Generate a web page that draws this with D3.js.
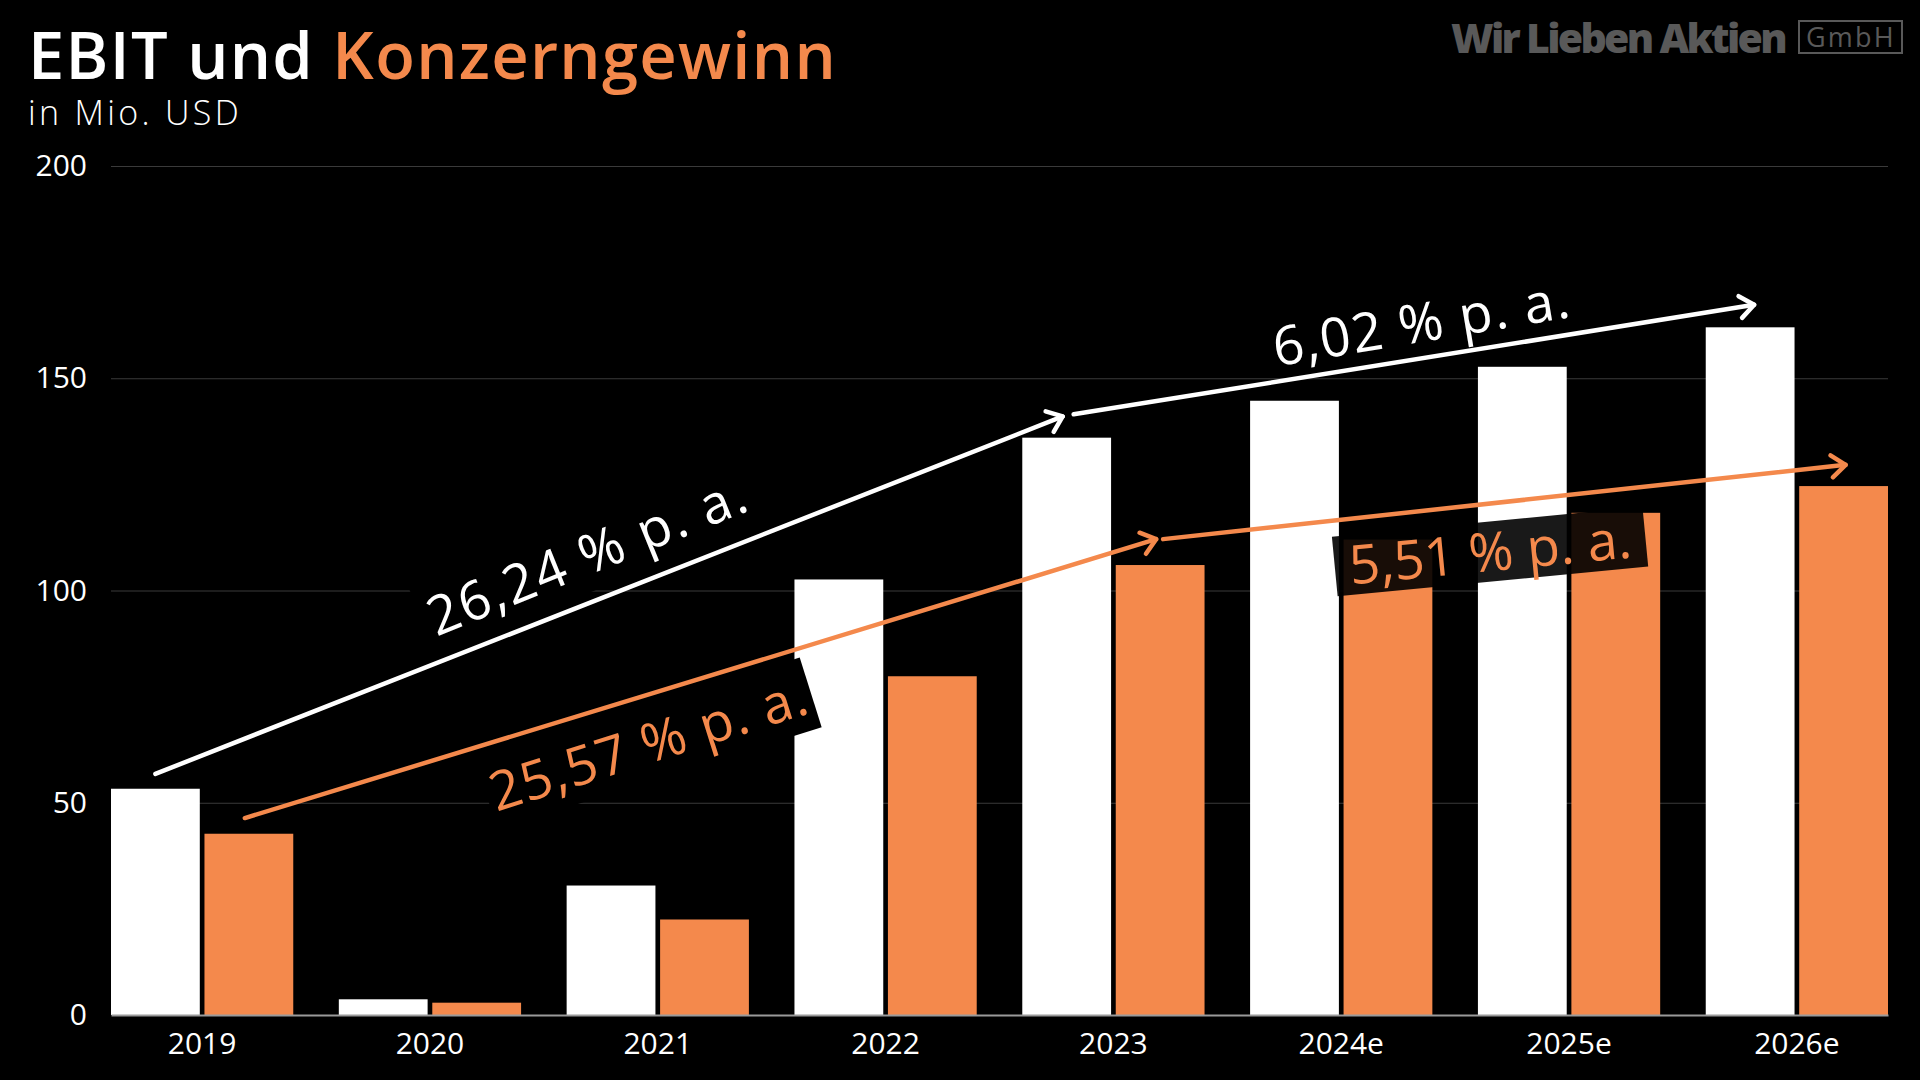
<!DOCTYPE html>
<html><head><meta charset="utf-8">
<script src="https://cdn.jsdelivr.net/npm/d3@7"></script>
<style>html,body{margin:0;padding:0;background:#000;overflow:hidden}svg{display:block}</style>
</head><body>
<svg id="c" width="1920" height="1080"></svg>
<script>
// ---------- data ----------
const years = ["2019","2020","2021","2022","2023","2024e","2025e","2026e"];
const seriesNames = ["EBIT","Konzerngewinn"];
const ebit = [53.3, 3.7, 30.5, 102.6, 136.0, 144.7, 152.7, 162.0];
const konzerngewinn = [42.7, 2.9, 22.5, 79.8, 106.0, 112.0, 118.3, 124.6];
const yTicks = [0, 50, 100, 150, 200];
// growth arrows (start/end category + value in Mio. USD) and their labels
const growthEBIT = [
  {from:"2019", fromV:56.8, to:"2023", toV:141.0, label:"26,24 % p. a."},
  {from:"2023", fromV:141.5, to:"2026e", toV:167.3, label:"6,02 % p. a."}
];
const growthKG = [
  {from:"2019", fromV:46.4, to:"2023", toV:112.1, label:"25,57 % p. a."},
  {from:"2023", fromV:112.1, to:"2026e", toV:129.6, label:"5,51 % p. a."}
];

// ---------- layout / style ----------
const W = 1920, H = 1080;
const FONT = "'Open Sans', 'Noto Sans', sans-serif";
const ORANGE = "#f4894c";
const plot = {left:111, right:1888, top:166, bottom:1015};
const svg = d3.select("#c").style("font-family", FONT);
svg.append("rect").attr("width", W).attr("height", H).attr("fill", "#000");

function fitLS(sel, target){
  const n = sel.node();
  const len = n.getComputedTextLength();
  const chars = n.textContent.length;
  sel.attr("letter-spacing", (target - len) / chars);
}

// ---------- scales ----------
const x0 = d3.scaleBand().domain(years).range([plot.left, plot.right]).paddingInner(0.2).paddingOuter(0);
const x1 = d3.scaleBand().domain(seriesNames).range([0, x0.bandwidth()]).paddingInner(0.05);
const y = d3.scaleLinear().domain([0, 200]).range([plot.bottom, plot.top]);
const color = d3.scaleOrdinal().domain(seriesNames).range(["#ffffff", ORANGE]);

// ---------- title ----------
const title = svg.append("text").attr("x", 28).attr("y", 79)
  .attr("font-size", 65).attr("font-weight", 600);
title.append("tspan").attr("fill", "#fff").text("EBIT und ");
title.append("tspan").attr("fill", ORANGE).text("Konzerngewinn");
fitLS(title, 809);
const sub = svg.append("text").attr("x", 28).attr("y", 125)
  .attr("font-size", 34).attr("font-weight", 300).attr("fill", "#fff").text("in Mio. USD");
fitLS(sub, 214);

// logo
const logo = svg.append("text").attr("x", 1451).attr("y", 53)
  .attr("font-size", 41).attr("font-weight", 800).attr("fill", "#595959").text("Wir Lieben Aktien");
fitLS(logo, 334);
svg.append("rect").attr("x", 1799).attr("y", 21).attr("width", 103).attr("height", 32)
  .attr("fill", "none").attr("stroke", "#595959").attr("stroke-width", 2);
const gmbh = svg.append("text").attr("x", 1806).attr("y", 47)
  .attr("font-size", 27).attr("fill", "#595959").text("GmbH");
fitLS(gmbh, 90);

// ---------- y axis & grid ----------
const yAxis = svg.append("g").attr("transform", `translate(${plot.left},0)`)
  .call(d3.axisLeft(y).tickValues(yTicks).tickSize(-(plot.right - plot.left)).tickPadding(24));
yAxis.select(".domain").remove();
yAxis.selectAll(".tick line").attr("stroke", "#3a3a3a").attr("stroke-width", 1.2)
  .filter(d => d === 0).remove();
yAxis.selectAll(".tick text").attr("fill", "#fff").attr("font-size", 30)
  .attr("font-family", FONT);

// ---------- bars ----------
const rows = years.map((yr, i) => ({year: yr, values: [
  {key: "EBIT", value: ebit[i]}, {key: "Konzerngewinn", value: konzerngewinn[i]}]}));
svg.append("g").selectAll("g").data(rows).join("g")
  .attr("transform", d => `translate(${x0(d.year)},0)`)
  .selectAll("rect").data(d => d.values).join("rect")
  .attr("x", d => x1(d.key)).attr("width", x1.bandwidth())
  .attr("y", d => y(d.value)).attr("height", d => y(0) - y(d.value))
  .attr("fill", d => color(d.key));

// ---------- x axis ----------
const xAxis = svg.append("g").attr("transform", `translate(0,${plot.bottom})`)
  .call(d3.axisBottom(x0).tickSize(0).tickPadding(18));
xAxis.select(".domain").attr("stroke", "#9a9a9a").attr("stroke-width", 2);
xAxis.selectAll(".tick text").attr("fill", "#fff").attr("font-size", 30).attr("font-family", FONT);

// ---------- growth annotations ----------
function arrowPts(a, key){
  const cx = k => x0(k) + x1(key) + x1.bandwidth() / 2;
  return {x1: cx(a.from), y1: y(a.fromV), x2: cx(a.to), y2: y(a.toV)};
}
const annos = [
  {g: growthEBIT[0], key:"EBIT", col:"#fff", gapS:0, gapE:-4, t:0.476, off:-49, rot:-22, len:341, box:{w:356, h:72, op:1}},
  {g: growthEBIT[1], key:"EBIT", col:"#fff", gapS:7, gapE:4, t:0.511, off:-36, rot:-9.5, len:301, box:null},
  {g: growthKG[0], key:"Konzerngewinn", col:ORANGE, gapS:-4, gapE:-4, t:0.443, off:49, rot:-17.5, len:331, box:{w:340, h:73, op:1}},
  {g: growthKG[1], key:"Konzerngewinn", col:ORANGE, gapS:3, gapE:2, t:0.479, off:48, rot:-5.5, len:283, box:{w:312, h:60, op:0.9}}
];
annos.forEach(a => {
  const p = arrowPts(a.g, a.key);
  p.x1 += a.gapS; p.x2 += a.gapE;
  a.p = p;
  a.cx = p.x1 + (p.x2 - p.x1) * a.t;
  a.cy = p.y1 + (p.y2 - p.y1) * a.t + a.off;
});
const boxLayer = svg.append("g");
const arrowLayer = svg.append("g");
const textLayer = svg.append("g");
annos.forEach(a => {
  if (a.box) {
    boxLayer.append("rect")
      .attr("x", -a.box.w / 2).attr("y", -a.box.h / 2)
      .attr("width", a.box.w).attr("height", a.box.h)
      .attr("fill", "#000").attr("fill-opacity", a.box.op)
      .attr("transform", `translate(${a.cx},${a.cy}) rotate(${a.rot})`);
  }
  const p = a.p;
  arrowLayer.append("line").attr("x1", p.x1).attr("y1", p.y1).attr("x2", p.x2).attr("y2", p.y2)
    .attr("stroke", a.col).attr("stroke-width", 4.5).attr("stroke-linecap", "round");
  const ang = Math.atan2(p.y2 - p.y1, p.x2 - p.x1) * 180 / Math.PI;
  arrowLayer.append("path").attr("d", "M-14,-11L0,0L-14,11")
    .attr("fill", "none").attr("stroke", a.col).attr("stroke-width", 4.5)
    .attr("stroke-linecap", "round").attr("stroke-linejoin", "round")
    .attr("transform", `translate(${p.x2},${p.y2}) rotate(${ang})`);
  const t = textLayer.append("text")
    .attr("transform", `translate(${a.cx},${a.cy}) rotate(${a.rot})`)
    .attr("text-anchor", "middle").attr("dy", "0.36em")
    .attr("font-size", 54).attr("fill", a.col).text(a.g.label);
  fitLS(t, a.len);
});
</script>
</body></html>
